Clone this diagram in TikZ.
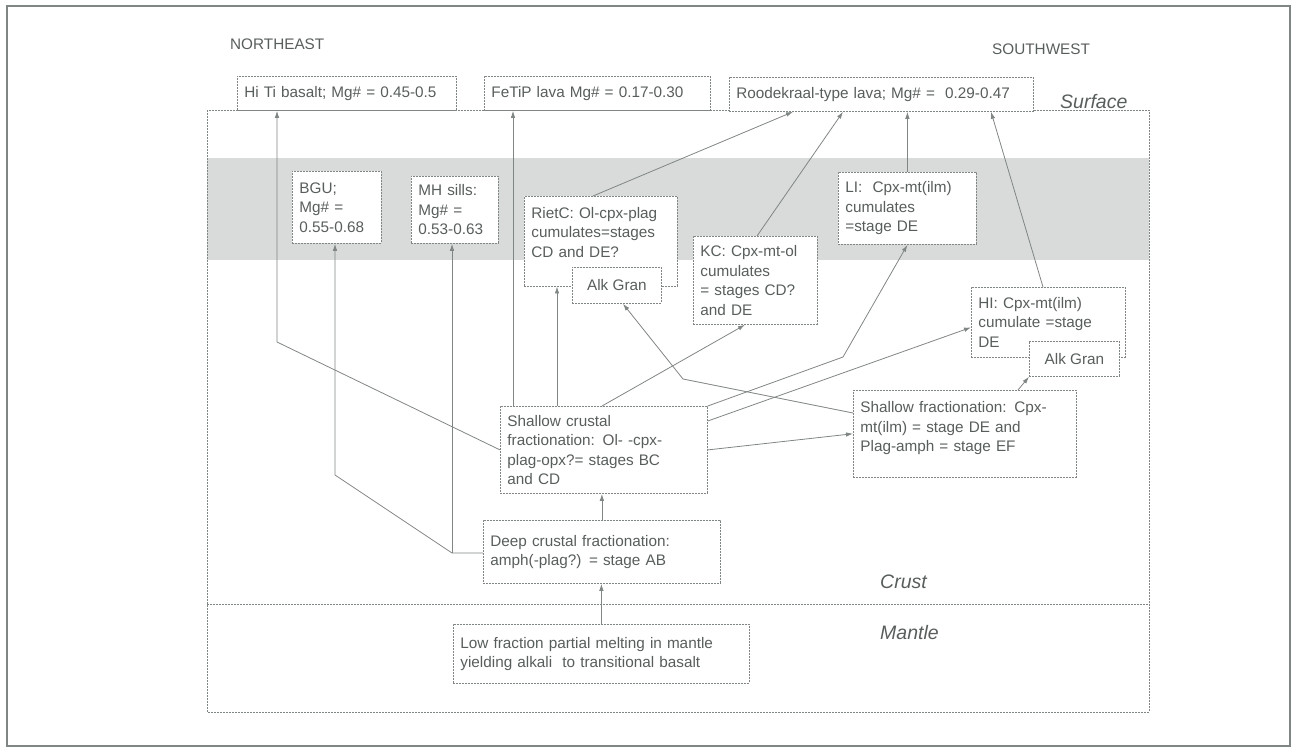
\documentclass[tikz,border=0pt]{standalone}
\usepackage{fontspec}
\setmainfont{Liberation Sans}
\usetikzlibrary{arrows.meta,positioning,calc}
\definecolor{ink}{RGB}{88,94,92}
\definecolor{rule}{RGB}{128,134,132}
\definecolor{band}{RGB}{216,219,217}

\begin{document}
\begin{tikzpicture}[x=1pt,y=-1pt,>={Latex[length=7pt,width=4.5pt]},
  font=\fontsize{15.3}{19.5}\selectfont,text=ink,
  box/.style={draw=rule,dash pattern=on 2pt off 1pt,line width=0.8pt,fill=white,
    anchor=north west,align=left,inner xsep=7pt,inner ysep=0pt},
  flow/.style={->,draw=rule,line width=0.8pt},
  tag/.style={anchor=west,inner sep=0pt},
  zone/.style={tag,font=\fontsize{19.5}{22}\selectfont\itshape}]
  \useasboundingbox (0,0) rectangle (1296,750);
  \draw[rule,line width=2.5pt] (7,6) rectangle (1290,746);

  % crust, mantle and the grey level
  \fill[band] (207,158) rectangle (1149,260);
  \draw[rule,dash pattern=on 2pt off 1pt,line width=0.8pt] (207,110) rectangle (1149,712);
  \draw[rule,dash pattern=on 2pt off 1pt,line width=0.8pt] (207,604) -- (1149,604);

  \node[tag] (ne) at (230,44) {NORTHEAST};
  \node[tag] (sw) at (992,49) {SOUTHWEST};
  \node[zone] (surf) at (1060,102) {Surface};
  \node[zone] (crust) at (880,582) {Crust};
  \node[zone] (mantle) at (880,633) {Mantle};

  % surface lavas
  \node[box,text width=205pt,minimum height=34pt] (hiti) at (237,76) {Hi Ti basalt; Mg\# = 0.45-0.5};
  \node[box,text width=212pt,minimum height=34pt] (fetip) at (484,76) {FeTiP lava Mg\# = 0.17-0.30};
  \node[box,text width=290pt,minimum height=34pt] (rood) at (729,77) {Roodekraal-type lava; Mg\# =\ \ 0.29-0.47};

  % intrusions
  \node[box,text width=75pt,minimum height=72pt] (bgu) at (292,171) {BGU;\\Mg\# =\\0.55-0.68};
  \node[box,text width=73pt,minimum height=67pt] (mh) at (411,176) {MH sills:\\Mg\# =\\0.53-0.63};
  \node[box,text width=139pt,inner ysep=10.8pt,text depth=57pt] (rietc) at (524,196)
    {RietC: Ol-cpx-plag\\cumulates=stages\\CD and DE?};
  \node[box,minimum width=89pt,minimum height=36pt] (alkr) at (572,267) {Alk Gran};
  \node[box,text width=110pt,minimum height=88pt] (kc) at (693,236)
    {KC: Cpx-mt-ol\\cumulates\\= stages CD?\\and DE};
  \node[box,text width=124pt,minimum height=72pt] (li) at (838,172)
    {LI:\ \ Cpx-mt(ilm)\\cumulates\\=stage DE};
  \node[box,text width=140pt,minimum height=70pt] (hi) at (971,287)
    {HI: Cpx-mt(ilm)\\cumulate =stage\\DE};
  \node[box,minimum width=90pt,minimum height=35pt] (alkh) at (1029,341) {Alk Gran};

  % fractionation
  \node[box,text width=193pt,minimum height=87pt] (scf) at (500,406)
    {Shallow crustal\\fractionation: Ol- -cpx-\\plag-opx?= stages BC\\and CD};
  \node[box,text width=209pt,inner ysep=11.3pt,text depth=53pt] (sf) at (853,390)
    {Shallow fractionation: Cpx-\\mt(ilm) = stage DE and\\Plag-amph = stage EF};
  \node[box,text width=223pt,minimum height=63pt] (dcf) at (483,520)
    {Deep crustal fractionation:\\amph(-plag?) = stage AB};
  \node[box,text width=282pt,minimum height=59pt] (low) at (453,624)
    {Low fraction partial melting in mantle\\yielding alkali\ \ to transitional basalt};

  % bends
  \coordinate (kHiTi) at (277,342);
  \coordinate (kJoin) at (452,553);
  \coordinate (kBgu) at (335,475);
  \coordinate (kFe) at ([xshift=13pt]scf.north west);
  \coordinate (kRc) at ([xshift=57pt]scf.north west);
  \coordinate (kLi) at (843,357);
  \coordinate (kAg) at (683,379);

  \draw[flow] (low.north) -- (low.north |- dcf.south);
  \draw[flow] (dcf.north) -- (dcf.north |- scf.south);
  \draw[flow] (dcf.west |- kJoin) -- (kJoin) -- (kBgu) -- (kBgu |- bgu.south);
  \draw[flow] (kJoin) -- (kJoin |- mh.south);
  \draw[flow] (scf.west) -- (kHiTi) -- (kHiTi |- hiti.south);
  \draw[flow] (kFe) -- (kFe |- fetip.south);
  \draw[flow] (kRc) -- (kRc |- rietc.south);
  \draw[flow] ([xshift=102pt]scf.north west) -- ([xshift=52pt]kc.south west);
  \draw[flow] (scf.north east) -- (kLi) -- (li.south);
  \draw[flow] ([yshift=-15pt]scf.north east) -- ([yshift=-5pt]hi.west);
  \draw[flow] (scf.east) -- (sf.west);
  \draw[flow] ([yshift=-23pt]sf.north west) -- (kAg) -- ([xshift=51pt]alkr.south west);
  \draw[flow] ([xshift=165pt]sf.north west) -- (alkh.south west);
  \draw[flow] ([xshift=69pt]rietc.north west) -- ([xshift=64pt]rood.south west);
  \draw[flow] ([xshift=64pt]kc.north west) -- ([xshift=114pt]rood.south west);
  \draw[flow] (li.north) -- (li.north |- rood.south);
  \draw[flow] ([xshift=72pt]hi.north west) -- ([xshift=262pt]rood.south west);
\end{tikzpicture}
\end{document}
